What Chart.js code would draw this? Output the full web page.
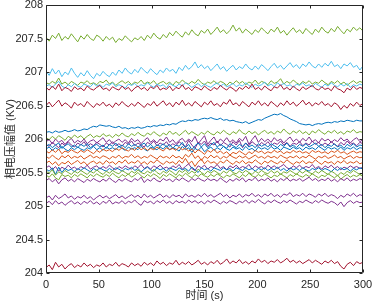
<!DOCTYPE html>
<html>
<head>
<meta charset="utf-8">
<script src="https://cdn.jsdelivr.net/npm/chart.js@4.4.1/dist/chart.umd.min.js"></script>
<style>
html,body{margin:0;padding:0;background:#fff;}
canvas{display:block;}
</style>
</head>
<body>
<canvas id="c" width="373" height="303" style="width:373px;height:303px"></canvas>
<script>
// time axis (s)
const times = [0,3,6,9,12,15,18,21,24,27,30,33,36,39,42,45,48,51,54,57,60,63,66,69,72,75,78,81,84,87,90,93,96,99,102,105,108,111,114,117,120,123,126,129,132,135,138,141,144,147,150,153,156,159,162,165,168,171,174,177,180,183,186,189,192,195,198,201,204,207,210,213,216,219,222,225,228,231,234,237,240,243,246,249,252,255,258,261,264,267,270,273,276,279,282,285,288,291,294,297,300];
const xTicks = [0,50,100,150,200,250,300];
const yTicks = [204,204.5,205,205.5,206,206.5,207,207.5,208];

// phase voltage amplitude series (kV)
const greenTop = [
207.52,207.46,207.55,207.50,207.58,207.47,207.53,207.49,207.57,207.51,
207.45,207.54,207.49,207.56,207.50,207.47,207.55,207.52,207.46,207.53,
207.48,207.52,207.44,207.50,207.47,207.54,207.49,207.45,207.51,207.48,
207.53,207.47,207.55,207.50,207.58,207.52,207.49,207.56,207.51,207.59,
207.54,207.61,207.56,207.52,207.60,207.55,207.63,207.57,207.54,207.62,
207.58,207.64,207.56,207.61,207.67,207.59,207.63,207.57,207.62,207.70,
207.61,207.66,207.58,207.64,207.60,207.56,207.63,207.59,207.66,207.61,
207.57,207.64,207.60,207.67,207.58,207.62,207.55,207.61,207.66,207.59,
207.63,207.57,207.65,207.60,207.56,207.64,207.59,207.67,207.61,207.58,
207.65,207.60,207.68,207.62,207.57,207.64,207.60,207.67,207.62,207.66,
207.61];
const cyanTop = [
207.01,206.95,207.05,206.97,207.03,206.93,207.00,206.96,207.06,206.98,
206.92,206.99,206.94,207.02,206.95,206.90,206.98,206.94,207.01,206.96,
206.93,207.00,206.95,207.03,206.98,207.06,207.00,206.97,207.04,206.99,
207.07,207.02,206.98,207.05,207.00,206.96,207.03,206.99,207.06,207.01,
207.04,206.98,207.07,207.02,207.10,207.04,207.08,207.15,207.06,207.11,
207.05,207.09,207.02,207.07,207.12,207.04,207.08,207.01,207.06,207.10,
207.03,207.08,207.05,207.12,207.06,207.03,207.09,207.04,207.11,207.07,
207.02,207.08,207.13,207.06,207.10,207.04,207.09,207.14,207.07,207.11,
207.05,207.12,207.08,207.15,207.09,207.06,207.12,207.07,207.13,207.09,
207.16,207.08,207.11,207.05,207.12,207.09,207.14,207.07,207.10,207.03,
207.09];
const green2 = [
206.84,206.82,206.86,206.83,206.91,206.82,206.85,206.81,206.86,206.83,
206.80,206.85,206.83,206.87,206.82,206.84,206.81,206.86,206.84,206.88,
206.82,206.85,206.80,206.84,206.87,206.83,206.86,206.81,206.85,206.83,
206.88,206.82,206.85,206.83,206.87,206.81,206.84,206.86,206.82,206.85,
206.80,206.86,206.83,206.88,206.84,206.82,206.86,206.83,206.89,206.84,
206.81,206.85,206.83,206.87,206.82,206.86,206.84,206.80,206.85,206.82,
206.87,206.83,206.86,206.81,206.85,206.83,206.88,206.82,206.86,206.84,
206.81,206.87,206.83,206.85,206.90,206.82,206.86,206.83,206.88,206.84,
206.81,206.86,206.83,206.87,206.82,206.85,206.83,206.88,206.84,206.81,
206.86,206.83,206.87,206.82,206.85,206.80,206.84,206.87,206.83,206.86,
206.84];
const cyan2 = [
206.79,206.81,206.77,206.82,206.86,206.79,206.76,206.81,206.78,206.83,
206.79,206.77,206.82,206.80,206.78,206.83,206.79,206.81,206.77,206.82,
206.80,206.84,206.78,206.81,206.79,206.76,206.82,206.80,206.83,206.78,
206.81,206.79,206.84,206.80,206.77,206.82,206.79,206.81,206.76,206.83,
206.80,206.78,206.82,206.79,206.84,206.81,206.77,206.80,206.83,206.78,
206.82,206.79,206.77,206.81,206.84,206.79,206.82,206.78,206.80,206.83,
206.78,206.81,206.79,206.84,206.80,206.77,206.82,206.79,206.81,206.85,
206.79,206.82,206.78,206.84,206.80,206.83,206.79,206.81,206.77,206.82,
206.80,206.84,206.79,206.81,206.78,206.83,206.80,206.77,206.82,206.79,
206.84,206.80,206.78,206.82,206.79,206.83,206.77,206.81,206.79,206.82,
206.80];
const red1 = [
206.77,206.73,206.79,206.74,206.82,206.72,206.77,206.75,206.71,206.78,
206.74,206.76,206.72,206.79,206.75,206.73,206.77,206.80,206.74,206.76,
206.72,206.78,206.75,206.73,206.79,206.74,206.77,206.71,206.76,206.79,
206.74,206.77,206.72,206.78,206.75,206.80,206.73,206.76,206.74,206.79,
206.72,206.77,206.75,206.81,206.74,206.77,206.72,206.78,206.76,206.73,
206.79,206.75,206.72,206.77,206.74,206.80,206.76,206.73,206.78,206.75,
206.71,206.77,206.74,206.79,206.75,206.82,206.74,206.77,206.73,206.79,
206.75,206.72,206.78,206.76,206.81,206.74,206.77,206.73,206.79,206.75,
206.72,206.78,206.74,206.77,206.80,206.75,206.73,206.78,206.74,206.76,
206.72,206.79,206.75,206.73,206.69,206.76,206.73,206.79,206.74,206.77,
206.75];
const red2 = [
206.50,206.55,206.48,206.53,206.58,206.49,206.54,206.51,206.46,206.55,
206.50,206.53,206.48,206.56,206.51,206.47,206.53,206.50,206.55,206.49,
206.52,206.47,206.54,206.50,206.56,206.51,206.48,206.53,206.49,206.55,
206.51,206.47,206.53,206.50,206.56,206.49,206.53,206.57,206.50,206.54,
206.48,206.55,206.51,206.58,206.50,206.54,206.49,206.56,206.52,206.48,
206.55,206.51,206.57,206.50,206.53,206.48,206.55,206.52,206.59,206.51,
206.54,206.49,206.56,206.52,206.48,206.55,206.51,206.57,206.50,206.54,
206.49,206.56,206.52,206.48,206.54,206.50,206.57,206.51,206.55,206.49,
206.53,206.58,206.51,206.55,206.49,206.54,206.51,206.56,206.50,206.53,
206.48,206.54,206.51,206.44,206.50,206.46,206.53,206.49,206.55,206.50,
206.53];
const blue1 = [
206.10,206.11,206.09,206.12,206.10,206.11,206.13,206.11,206.12,206.14,
206.12,206.13,206.15,206.14,206.17,206.19,206.18,206.21,206.20,206.19,
206.20,206.18,206.17,206.19,206.16,206.17,206.15,206.17,206.16,206.18,
206.16,206.17,206.19,206.18,206.20,206.19,206.21,206.20,206.22,206.21,
206.23,206.22,206.25,206.27,206.26,206.28,206.27,206.29,206.28,206.30,
206.31,206.30,206.32,206.30,206.29,206.31,206.28,206.29,206.27,206.28,
206.26,206.25,206.24,206.26,206.23,206.25,206.27,206.29,206.28,206.31,
206.33,206.35,206.37,206.36,206.38,206.35,206.33,206.30,206.28,206.26,
206.23,206.22,206.21,206.22,206.20,206.22,206.23,206.22,206.24,206.25,
206.24,206.26,206.25,206.27,206.26,206.28,206.27,206.26,206.28,206.27,
206.27];
const green3 = [
206.02,205.99,206.04,206.00,206.05,206.02,205.98,206.04,206.01,206.06,
206.02,206.05,206.00,206.04,206.07,206.02,206.05,206.03,206.08,206.04,
206.06,206.02,206.07,206.04,206.09,206.05,206.03,206.08,206.05,206.10,
206.06,206.04,206.09,206.06,206.11,206.07,206.04,206.09,206.06,206.12,
206.07,206.10,206.05,206.09,206.13,206.07,206.11,206.08,206.05,206.10,
206.07,206.12,206.08,206.06,206.11,206.08,206.13,206.09,206.06,206.11,
206.08,206.14,206.09,206.07,206.12,206.08,206.11,206.06,206.10,206.13,
206.08,206.11,206.07,206.12,206.09,206.15,206.10,206.07,206.12,206.09,
206.13,206.08,206.11,206.06,206.12,206.09,206.14,206.10,206.07,206.12,
206.09,206.13,206.08,206.11,206.07,206.12,206.10,206.14,206.09,206.11,
206.10];
const purple1 = [
205.96,205.99,205.93,206.00,205.95,205.98,205.92,205.97,206.01,205.94,
205.98,205.95,206.00,205.93,205.97,205.99,205.94,205.98,206.02,205.95,
205.99,205.93,205.97,206.00,205.95,205.99,205.94,206.01,205.96,205.99,
205.93,205.98,206.02,205.95,205.99,205.94,206.00,205.97,206.03,205.95,
205.99,205.93,205.98,206.01,205.95,206.00,205.96,206.04,205.93,205.99,
206.05,205.92,205.98,206.03,205.94,206.00,205.96,206.02,205.95,205.99,
205.94,206.01,205.97,206.04,205.92,205.99,206.05,205.95,206.01,205.96,
206.00,205.95,206.02,205.97,206.00,205.94,205.99,206.03,205.96,206.00,
205.95,206.01,205.97,206.03,205.96,205.99,205.94,206.01,205.97,206.00,
205.95,205.99,205.96,206.02,205.97,206.00,205.94,205.99,206.02,205.96,
205.99];
const purple2 = [
205.92,205.89,205.95,205.91,205.87,205.94,205.90,205.96,205.91,205.88,
205.94,205.91,205.96,205.89,205.93,205.90,205.95,205.92,205.88,205.94,
205.91,205.96,205.90,205.93,205.89,205.95,205.92,205.97,205.90,205.94,
205.91,205.88,205.95,205.92,205.97,205.90,205.94,205.91,205.96,205.89,
205.93,205.90,205.96,205.92,205.88,205.98,205.91,205.86,205.95,205.92,
205.97,205.89,205.94,205.91,205.97,205.90,205.95,205.92,205.88,205.96,
205.91,205.98,205.87,205.94,205.90,205.96,205.92,205.89,205.95,205.91,
205.96,205.90,205.94,205.92,205.97,205.91,205.95,205.89,205.94,205.92,
205.96,205.90,205.94,205.91,205.97,205.92,205.95,205.90,205.94,205.91,
205.96,205.92,205.89,205.95,205.91,205.97,205.92,205.94,205.90,205.95,
205.93];
const blue2 = [
205.89,205.92,205.87,205.91,205.94,205.86,205.90,205.93,205.88,205.91,
205.87,205.92,205.89,205.93,205.87,205.90,205.92,205.88,205.91,205.86,
205.92,205.89,205.94,205.88,205.91,205.87,205.93,205.89,205.92,205.88,
205.91,205.94,205.88,205.92,205.87,205.91,205.89,205.93,205.88,205.92,
205.86,205.91,205.89,205.95,205.87,205.92,205.84,205.90,205.94,205.88,
205.93,205.87,205.91,205.95,205.88,205.92,205.89,205.86,205.93,205.90,
205.87,205.92,205.89,205.94,205.88,205.91,205.87,205.93,205.89,205.92,
205.88,205.93,205.90,205.87,205.92,205.89,205.94,205.88,205.91,205.87,
205.92,205.89,205.93,205.88,205.91,205.94,205.89,205.92,205.87,205.91,
205.89,205.93,205.88,205.91,205.86,205.92,205.89,205.93,205.88,205.91,
205.90];
const blue3 = [
205.85,205.88,205.83,205.87,205.84,205.89,205.85,205.82,205.87,205.84,
205.88,205.85,205.83,205.87,205.85,205.89,205.84,205.87,205.83,205.88,
205.85,205.87,205.84,205.89,205.86,205.83,205.88,205.85,205.87,205.84,
205.89,205.85,205.82,205.88,205.86,205.84,205.88,205.85,205.90,205.84,
205.87,205.85,205.82,205.89,205.84,205.87,205.80,205.86,205.83,205.88,
205.81,205.85,205.88,205.83,205.87,205.84,205.89,205.85,205.83,205.88,
205.85,205.87,205.83,205.89,205.84,205.86,205.82,205.88,205.85,205.87,
205.84,205.89,205.85,205.87,205.83,205.88,205.86,205.84,205.88,205.85,
205.87,205.83,205.88,205.85,205.87,205.84,205.89,205.86,205.83,205.88,
205.85,205.87,205.84,205.88,205.83,205.87,205.85,205.88,205.84,205.87,
205.86];
const orange1 = [
205.82,205.79,205.84,205.80,205.85,205.78,205.82,205.80,205.84,205.81,
205.79,205.83,205.80,205.84,205.81,205.78,205.83,205.80,205.85,205.82,
205.84,205.81,205.86,205.83,205.87,205.84,205.82,205.86,205.83,205.88,
205.84,205.87,205.83,205.86,205.84,205.88,205.85,205.82,205.87,205.84,
205.86,205.83,205.88,205.84,205.86,205.82,205.85,205.79,205.84,205.81,
205.77,205.83,205.80,205.85,205.79,205.82,205.78,205.81,205.76,205.80,
205.78,205.82,205.79,205.76,205.81,205.78,205.83,205.80,205.82,205.78,
205.81,205.79,205.83,205.80,205.82,205.78,205.81,205.79,205.83,205.80,
205.82,205.79,205.81,205.78,205.83,205.80,205.82,205.79,205.81,205.78,
205.82,205.80,205.83,205.79,205.81,205.77,205.80,205.82,205.79,205.81,
205.80];
const orange2 = [
205.74,205.71,205.76,205.72,205.69,205.75,205.72,205.76,205.71,205.74,
205.72,205.75,205.70,205.73,205.76,205.72,205.74,205.71,205.75,205.73,
205.70,205.74,205.72,205.76,205.71,205.74,205.73,205.77,205.72,205.75,
205.71,205.74,205.72,205.76,205.73,205.70,205.75,205.72,205.74,205.71,
205.76,205.72,205.74,205.70,205.77,205.73,205.79,205.71,205.75,205.68,
205.74,205.71,205.76,205.72,205.75,205.70,205.74,205.72,205.76,205.73,
205.71,205.75,205.72,205.74,205.70,205.73,205.76,205.72,205.74,205.71,
205.75,205.72,205.74,205.71,205.76,205.73,205.71,205.74,205.72,205.75,
205.71,205.74,205.72,205.76,205.73,205.70,205.74,205.72,205.75,205.71,
205.73,205.76,205.72,205.74,205.70,205.73,205.75,205.71,205.74,205.72,
205.73];
const orange3 = [
205.64,205.67,205.62,205.66,205.60,205.65,205.63,205.67,205.62,205.65,
205.68,205.63,205.66,205.61,205.65,205.67,205.63,205.66,205.62,205.68,
205.64,205.66,205.62,205.67,205.64,205.69,205.63,205.66,205.64,205.68,
205.63,205.66,205.62,205.67,205.64,205.69,205.65,205.62,205.67,205.64,
205.66,205.62,205.68,205.64,205.71,205.63,205.67,205.59,205.66,205.70,
205.63,205.68,205.64,205.66,205.62,205.67,205.64,205.69,205.65,205.62,
205.67,205.64,205.68,205.63,205.66,205.64,205.69,205.65,205.62,205.67,
205.64,205.68,205.65,205.63,205.67,205.64,205.69,205.65,205.62,205.66,
205.64,205.68,205.63,205.66,205.64,205.69,205.65,205.62,205.67,205.64,
205.66,205.62,205.67,205.64,205.68,205.63,205.66,205.64,205.67,205.63,
205.65];
const purple3 = [
205.57,205.60,205.54,205.59,205.52,205.58,205.55,205.61,205.56,205.58,
205.54,205.59,205.56,205.61,205.55,205.58,205.60,205.55,205.59,205.56,
205.61,205.57,205.54,205.59,205.56,205.60,205.57,205.55,205.60,205.57,
205.62,205.56,205.59,205.55,205.60,205.57,205.61,205.56,205.58,205.55,
205.60,205.57,205.62,205.55,205.59,205.63,205.56,205.53,205.60,205.57,
205.61,205.55,205.59,205.57,205.62,205.56,205.59,205.54,205.60,205.57,
205.61,205.56,205.59,205.57,205.62,205.55,205.60,205.57,205.59,205.55,
205.61,205.57,205.60,205.56,205.59,205.62,205.57,205.55,205.60,205.57,
205.61,205.56,205.59,205.57,205.62,205.56,205.59,205.55,205.60,205.57,
205.61,205.56,205.59,205.54,205.58,205.56,205.60,205.57,205.59,205.56,
205.58];
const blue4 = [
205.55,205.52,205.57,205.47,205.58,205.50,205.56,205.53,205.55,205.51,
205.56,205.53,205.57,205.54,205.51,205.56,205.53,205.57,205.54,205.52,
205.56,205.53,205.57,205.55,205.52,205.56,205.54,205.58,205.53,205.56,
205.51,205.55,205.58,205.54,205.52,205.57,205.54,205.56,205.52,205.57,
205.55,205.53,205.57,205.54,205.56,205.52,205.58,205.54,205.50,205.57,
205.54,205.56,205.52,205.57,205.55,205.53,205.57,205.54,205.56,205.52,
205.57,205.55,205.53,205.57,205.54,205.56,205.52,205.56,205.54,205.57,
205.53,205.56,205.54,205.58,205.53,205.56,205.52,205.57,205.54,205.56,
205.53,205.57,205.54,205.52,205.56,205.54,205.57,205.53,205.56,205.54,
205.51,205.56,205.53,205.57,205.54,205.56,205.52,205.56,205.54,205.57,
205.55];
const green4 = [
205.52,205.49,205.54,205.46,205.51,205.48,205.53,205.50,205.47,205.52,
205.49,205.53,205.50,205.47,205.52,205.49,205.54,205.50,205.47,205.52,
205.49,205.53,205.50,205.48,205.53,205.50,205.47,205.52,205.49,205.54,
205.50,205.48,205.52,205.49,205.55,205.50,205.47,205.52,205.49,205.53,
205.50,205.46,205.53,205.50,205.54,205.48,205.52,205.49,205.55,205.50,
205.47,205.52,205.49,205.53,205.50,205.47,205.52,205.49,205.54,205.50,
205.48,205.52,205.49,205.53,205.50,205.47,205.52,205.49,205.53,205.50,
205.48,205.53,205.49,205.52,205.47,205.51,205.49,205.53,205.50,205.47,
205.52,205.49,205.53,205.50,205.48,205.52,205.49,205.53,205.50,205.47,
205.52,205.49,205.45,205.50,205.47,205.52,205.49,205.53,205.50,205.47,
205.49];
const green5 = [
205.46,205.43,205.48,205.42,205.39,205.47,205.44,205.46,205.42,205.47,
205.44,205.48,205.45,205.42,205.47,205.44,205.48,205.45,205.43,205.47,
205.44,205.49,205.45,205.42,205.47,205.44,205.48,205.43,205.46,205.50,
205.45,205.42,205.47,205.44,205.48,205.45,205.41,205.47,205.44,205.48,
205.45,205.42,205.47,205.44,205.49,205.45,205.42,205.47,205.44,205.48,
205.45,205.43,205.47,205.44,205.48,205.45,205.42,205.46,205.44,205.48,
205.45,205.42,205.47,205.44,205.49,205.45,205.43,205.47,205.44,205.48,
205.45,205.42,205.46,205.44,205.48,205.45,205.42,205.47,205.44,205.48,
205.45,205.43,205.47,205.44,205.48,205.45,205.42,205.46,205.44,205.48,
205.45,205.42,205.46,205.40,205.44,205.47,205.43,205.46,205.44,205.47,
205.44];
const purple4 = [
205.38,205.41,205.36,205.40,205.33,205.39,205.42,205.37,205.40,205.36,
205.41,205.38,205.35,205.40,205.37,205.41,205.38,205.36,205.40,205.37,
205.42,205.38,205.35,205.40,205.37,205.41,205.38,205.36,205.41,205.38,
205.43,205.35,205.40,205.37,205.42,205.38,205.36,205.41,205.38,205.40,
205.36,205.41,205.38,205.42,205.39,205.36,205.41,205.38,205.42,205.39,
205.37,205.41,205.38,205.40,205.37,205.42,205.38,205.35,205.40,205.37,
205.41,205.38,205.42,205.36,205.40,205.38,205.43,205.37,205.40,205.38,
205.42,205.37,205.40,205.36,205.41,205.38,205.42,205.37,205.40,205.38,
205.41,205.37,205.40,205.43,205.38,205.41,205.37,205.40,205.38,205.42,
205.37,205.40,205.36,205.41,205.38,205.42,205.37,205.40,205.38,205.41,
205.39];
const purple5 = [
205.12,205.15,205.09,205.16,205.11,205.14,205.18,205.12,205.15,205.10,
205.14,205.12,205.16,205.11,205.14,205.09,205.13,205.16,205.12,205.15,
205.11,205.14,205.17,205.12,205.15,205.11,205.14,205.17,205.13,205.16,
205.12,205.18,205.13,205.16,205.12,205.15,205.18,205.13,205.16,205.12,
205.17,205.14,205.16,205.12,205.18,205.14,205.16,205.13,205.17,205.14,
205.19,205.14,205.17,205.13,205.16,205.19,205.14,205.17,205.12,205.16,
205.14,205.18,205.13,205.17,205.15,205.19,205.14,205.17,205.13,205.18,
205.15,205.19,205.14,205.17,205.13,205.18,205.16,205.20,205.14,205.17,
205.15,205.19,205.14,205.18,205.16,205.13,205.18,205.15,205.19,205.14,
205.17,205.15,205.11,205.16,205.13,205.18,205.15,205.19,205.14,205.17,
205.15];
const purple6 = [
205.04,205.07,205.02,205.08,205.03,205.06,205.01,205.05,205.08,205.03,
205.06,205.02,205.07,205.04,205.08,205.03,205.06,205.02,205.07,205.04,
205.09,205.03,205.06,205.04,205.08,205.03,205.07,205.05,205.09,205.04,
205.01,205.08,205.05,205.07,205.03,205.08,205.05,205.09,205.04,205.07,
205.03,205.08,205.05,205.07,205.04,205.09,205.05,205.08,205.04,205.07,
205.03,205.08,205.05,205.09,205.06,205.03,205.07,205.04,205.08,205.06,
205.03,205.07,205.05,205.09,205.04,205.08,205.05,205.10,205.06,205.03,
205.08,205.05,205.09,205.06,205.04,205.08,205.05,205.09,205.06,205.03,
205.07,205.05,205.09,205.06,205.04,205.08,205.05,205.09,205.06,205.04,
205.07,205.05,205.01,205.06,204.99,205.05,205.08,205.04,205.07,205.05,
205.06];
const red3 = [
204.08,204.12,204.05,204.16,204.09,204.13,204.06,204.11,204.14,204.08,
204.12,204.09,204.15,204.10,204.13,204.08,204.12,204.10,204.15,204.09,
204.13,204.11,204.16,204.10,204.14,204.12,204.09,204.15,204.11,204.14,
204.10,204.16,204.12,204.15,204.11,204.18,204.13,204.16,204.11,204.15,
204.13,204.19,204.12,204.16,204.13,204.17,204.12,204.15,204.19,204.13,
204.16,204.12,204.17,204.14,204.19,204.13,204.16,204.21,204.14,204.18,
204.15,204.20,204.14,204.17,204.13,204.18,204.15,204.21,204.16,204.19,
204.14,204.18,204.16,204.20,204.15,204.18,204.22,204.16,204.19,204.15,
204.18,204.14,204.17,204.20,204.15,204.19,204.16,204.13,204.18,204.15,
204.19,204.14,204.17,204.10,204.06,204.13,204.16,204.11,204.17,204.14,
204.16];

const C_BLUE = '#0072BD', C_ORANGE = '#D95319', C_PURPLE = '#7E2F8E',
      C_GREEN = '#77AC30', C_CYAN = '#4DBEEE', C_RED = '#A2142F';

const seriesList = [
  [red3, C_RED], [purple6, C_PURPLE], [purple5, C_PURPLE], [purple4, C_PURPLE],
  [green5, C_GREEN], [green4, C_GREEN], [blue4, C_BLUE], [purple3, C_PURPLE],
  [orange3, C_ORANGE], [orange2, C_ORANGE], [orange1, C_ORANGE],
  [green3, C_GREEN], [blue3, C_BLUE], [blue2, C_BLUE], [purple2, C_PURPLE], [purple1, C_PURPLE],
  [blue1, C_BLUE], [red2, C_RED], [red1, C_RED], [cyan2, C_CYAN], [green2, C_GREEN],
  [cyanTop, C_CYAN], [greenTop, C_GREEN]
];

const AXIS = '#262626';
const FONT = '"Liberation Sans", Arial, "Noto Sans CJK SC", sans-serif';

const boxPlugin = {
  id: 'matlabBox',
  afterDatasetsDraw(chart) {
    const {ctx, chartArea: a, scales} = chart;
    const L = Math.round(a.left) + 0.5, R = Math.round(a.right) - 0.5;
    const T = Math.round(a.top) + 0.5, B = Math.round(a.bottom) - 0.5;
    ctx.save();
    ctx.strokeStyle = AXIS;
    ctx.lineWidth = 1;
    ctx.beginPath();
    ctx.rect(L, T, R - L, B - T);
    const tl = 3;
    xTicks.forEach(v => {
      const x = Math.round(scales.x.getPixelForValue(v)) + 0.5;
      ctx.moveTo(x, B); ctx.lineTo(x, B - tl);
      ctx.moveTo(x, T); ctx.lineTo(x, T + tl);
    });
    yTicks.forEach(v => {
      const y = Math.round(scales.y.getPixelForValue(v)) + 0.5;
      ctx.moveTo(L, y); ctx.lineTo(L + tl, y);
      ctx.moveTo(R, y); ctx.lineTo(R - tl, y);
    });
    ctx.stroke();
    ctx.restore();
  }
};

new Chart(document.getElementById('c'), {
  type: 'line',
  data: {
    datasets: seriesList.map(([vals, col]) => ({
      data: vals.slice(0, times.length).map((v, i) => ({x: times[i], y: v})),
      borderColor: col,
      borderWidth: 1,
      pointRadius: 0,
      fill: false,
      tension: 0
    }))
  },
  options: {
    responsive: false,
    animation: false,
    events: [],
    layout: {padding: {top: 5, right: 10, left: 0, bottom: 0}},
    plugins: {legend: {display: false}, tooltip: {enabled: false}},
    scales: {
      x: {
        type: 'linear', min: 0, max: 300,
        afterBuildTicks: s => { s.ticks = xTicks.map(v => ({value: v})); },
        ticks: {color: AXIS, font: {family: FONT, size: 11}, padding: 5, maxRotation: 0, autoSkip: false,
                callback: v => String(v)},
        grid: {display: false, drawTicks: false},
        border: {display: false},
        title: {display: true, text: '时间 (s)', color: AXIS, font: {family: FONT, size: 11}, padding: {top: 0, bottom: 0}},
        afterFit: s => { s.height = 30; s.paddingLeft = 0; s.paddingRight = 0; }
      },
      y: {
        type: 'linear', min: 204, max: 208,
        afterBuildTicks: s => { s.ticks = yTicks.map(v => ({value: v})); },
        ticks: {color: AXIS, font: {family: FONT, size: 11}, padding: 3, autoSkip: false,
                callback: v => String(v)},
        grid: {display: false, drawTicks: false},
        border: {display: false},
        title: {display: true, text: '相电压幅值 (KV)', color: AXIS, font: {family: FONT, size: 11}, padding: {top: 4, bottom: 0}},
        afterFit: s => { s.width = 46; s.paddingTop = 0; s.paddingBottom = 0; }
      }
    }
  },
  plugins: [boxPlugin]
});
</script>
</body>
</html>
